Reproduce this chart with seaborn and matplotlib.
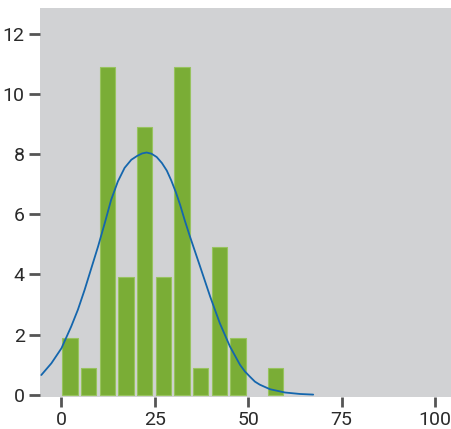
import numpy as np
import pandas as pd
import matplotlib
matplotlib.use("Agg")
import matplotlib.pyplot as plt
import seaborn as sns

# Centros de los intervalos (ancho 5) y alturas de las barras
centros = [2.5, 7.5, 12.5, 17.5, 22.5, 27.5, 32.5, 37.5, 42.5, 47.5, 57.5]
alturas = [1.9, 0.9, 10.9, 3.9, 8.9, 3.9, 10.9, 0.9, 4.9, 1.9, 0.9]

# Curva de densidad
curva_x = [-5.4, -2.7, 0.0, 2.6, 4.4, 6.2, 8.0, 9.8, 11.6, 13.3, 15.1, 16.9,
           18.7, 20.3, 21.6, 22.8, 24.1, 25.5, 26.9, 28.2, 29.4, 30.6, 31.8,
           33.0, 34.4, 37.1, 39.8, 42.4, 45.1, 47.8, 49.1, 50.5, 51.8, 53.1,
           55.8, 59.8, 63.9, 67.4]
curva_y = [0.66, 1.05, 1.55, 2.27, 2.83, 3.49, 4.21, 4.93, 5.71, 6.48, 7.09,
           7.54, 7.81, 7.94, 8.02, 8.05, 8.01, 7.9, 7.7, 7.45, 7.12, 6.74,
           6.3, 5.8, 5.26, 4.27, 3.27, 2.38, 1.61, 1.0, 0.78, 0.6, 0.44, 0.34,
           0.19, 0.08, 0.03, 0.01]

x_ticks = [0, 25, 50, 75, 100]
y_ticks = [0, 2, 4, 6, 8, 10, 12]

sns.set_style("white")
plt.rcParams['font.family'] = ['Roboto', 'DejaVu Sans']

fig = plt.figure(figsize=(4.51, 4.29), dpi=100)
ax = fig.add_axes([40 / 451, 32 / 429, 411 / 451, 389 / 429])
ax.set_facecolor("#d1d2d4")

df_barras = pd.DataFrame({"x": centros, "y": alturas})
sns.barplot(data=df_barras, x="x", y="y", native_scale=True, width=0.82,
            color="#7aad36", edgecolor="#98c35f", linewidth=0.8,
            saturation=1, ax=ax)
# pequeño desplazamiento de las barras a la izquierda
for p in ax.patches:
    p.set_x(p.get_x() - 0.2)

df_curva = pd.DataFrame({"x": curva_x, "y": curva_y})
sns.lineplot(data=df_curva, x="x", y="y", color="#1466ad", linewidth=1.3,
             sort=False, ax=ax)

ax.set_xlim(-5.75, 104.3)
ax.set_ylim(-0.07, 12.85)
ax.set_xticks(x_ticks)
ax.set_yticks(y_ticks)
ax.set_xlabel("")
ax.set_ylabel("")
for s in ax.spines.values():
    s.set_visible(False)
ax.tick_params(axis="both", which="both", direction="out", length=8, width=2,
               color="#555555", labelsize=14, labelcolor="#2a2a2a", pad=3)
ax.tick_params(axis="x", bottom=True, length=7)
ax.tick_params(axis="y", left=True)

fig.savefig("out.png", dpi=100)
